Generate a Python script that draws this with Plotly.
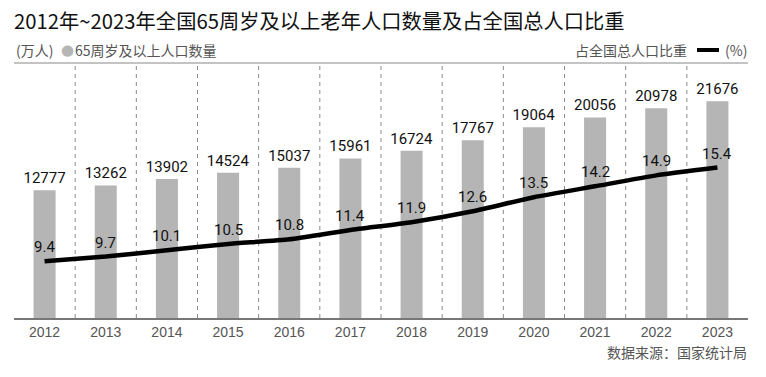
import plotly.graph_objects as go

years = ["2012", "2013", "2014", "2015", "2016", "2017", "2018", "2019", "2020", "2021", "2022", "2023"]
population = [12777, 13262, 13902, 14524, 15037, 15961, 16724, 17767, 19064, 20056, 20978, 21676]
share = [9.4, 9.7, 10.1, 10.5, 10.8, 11.4, 11.9, 12.6, 13.5, 14.2, 14.9, 15.4]

title_text = "2012年~2023年全国65周岁及以上老年人口数量及占全国总人口比重"
unit_left = "(万人)"
bar_legend = "65周岁及以上人口数量"
line_legend = "占全国总人口比重"
unit_right = "(%)"
source_text = "数据来源：国家统计局"

W, H = 766, 377
ML, MR, MT, MB = 14, 18, 63, 59
PW = W - ML - MR
PH = H - MT - MB

def py(px):  # pixel y from top -> paper y
    return 1 - (px - MT) / PH

def pxx(px):
    return (px - ML) / PW

cjk = "Noto Sans CJK SC"
num_font = "Roboto"

fig = go.Figure()
fig.add_trace(go.Bar(
    x=years, y=population, name=bar_legend,
    marker=dict(color="#b5b5b5", line=dict(width=0)),
    width=0.36,
    text=[str(v) for v in population], textposition="outside",
    constraintext="none",
    textfont=dict(family=num_font, size=15, color="#111"),
    cliponaxis=False, showlegend=False,
))
fig.add_trace(go.Scatter(
    x=years, y=share, name=line_legend, yaxis="y2",
    mode="lines",
    line=dict(color="#000", width=4.5, shape="spline", smoothing=0.5),
    cliponaxis=False, showlegend=False,
))

shapes = []
for i in range(len(years) - 1):
    shapes.append(dict(type="line", xref="x", yref="paper", x0=i + 0.5, x1=i + 0.5, y0=0, y1=1,
                       line=dict(color="#8a8a8a", width=1, dash="4px,4px"), layer="below"))
# top rule
shapes.append(dict(type="line", xref="paper", yref="paper", x0=0, x1=1, y0=1, y1=1,
                   line=dict(color="#888", width=1)))
# legend line swatch
shapes.append(dict(type="line", xref="paper", yref="paper", x0=pxx(697), x1=pxx(719), y0=py(50), y1=py(50),
                   line=dict(color="#000", width=4)))

annotations = [
    dict(xref="paper", yref="paper", x=pxx(14), y=py(50), xanchor="left", yanchor="middle",
         text=unit_left, showarrow=False, font=dict(family=cjk, size=14, color="#555")),
    dict(xref="paper", yref="paper", x=pxx(59), y=py(50), xanchor="left", yanchor="middle",
         text="●", showarrow=False, font=dict(family="DejaVu Sans", size=15, color="#b5b5b5")),
    dict(xref="paper", yref="paper", x=pxx(73), y=py(50), xanchor="left", yanchor="middle",
         text=bar_legend, showarrow=False, font=dict(family=cjk, size=14, color="#555")),
    dict(xref="paper", yref="paper", x=pxx(689), y=py(50), xanchor="right", yanchor="middle",
         text=line_legend, showarrow=False, font=dict(family=cjk, size=14, color="#555")),
    dict(xref="paper", yref="paper", x=pxx(749), y=py(50), xanchor="right", yanchor="middle",
         text=unit_right, showarrow=False, font=dict(family=cjk, size=14, color="#555")),
    dict(xref="paper", yref="paper", x=pxx(749), y=py(352), xanchor="right", yanchor="middle",
         text=source_text, showarrow=False, font=dict(family=cjk, size=14, color="#555")),
]
for i, v in enumerate(share):
    annotations.append(dict(xref="x", yref="y2", x=i, y=v, yshift=14, text=f"{v:.1f}",
                            showarrow=False, xanchor="center", yanchor="middle",
                            font=dict(family=num_font, size=15, color="#111")))

fig.update_layout(
    width=W, height=H,
    margin=dict(l=ML, r=MR, t=MT, b=MB),
    paper_bgcolor="white", plot_bgcolor="white",
    title=dict(text=title_text, x=ML / W, xanchor="left", xref="container",
               y=1 - 22 / H, yanchor="middle", yref="container",
               font=dict(family=cjk, size=20.3, color="#111")),
    xaxis=dict(type="category", range=[-0.5, len(years) - 0.5], showgrid=False, zeroline=False,
               showline=True, linecolor="#777", linewidth=2, ticks="",
               tickfont=dict(family="Liberation Sans", size=14, color="#555")),
    yaxis=dict(range=[0, 25500], visible=False, showgrid=False),
    yaxis2=dict(range=[5.76, 22.1], overlaying="y", visible=False, showgrid=False),
    shapes=shapes, annotations=annotations,
    bargap=0.64, showlegend=False,
)

fig.write_html("out.html", config={"displayModeBar": False},
               post_script="document.body.style.margin='0';document.body.style.overflow='hidden';")
